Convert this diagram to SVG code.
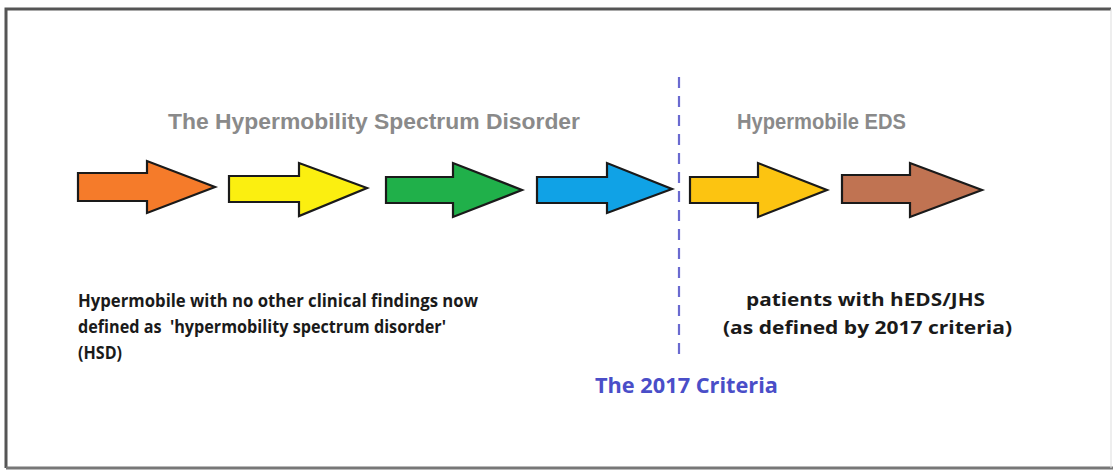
<svg xmlns="http://www.w3.org/2000/svg" width="1113" height="471" viewBox="0 0 1113 471">
<style>
.arrow{stroke:#1a1a1a;stroke-width:2.2;stroke-linejoin:miter}
.title{font-family:"Liberation Sans",Arial,sans-serif;font-weight:bold;font-size:22px;fill:#8a8a8a}
.body{font-family:"Open Sans","Liberation Sans",sans-serif;font-weight:bold;font-size:17px;fill:#1a1a1a}
.crit{font-family:"Open Sans","Liberation Sans",sans-serif;font-weight:bold;font-size:21px;fill:#4a4ec8}
</style>
<rect x="0" y="0" width="1113" height="471" fill="#ffffff"/>
<path d="M6,468 L6,9 L1111,9" fill="none" stroke="#555555" stroke-width="3"/>
<line x1="6" y1="468" x2="1113" y2="468" stroke="#777777" stroke-width="3"/>
<line x1="1111" y1="9" x2="1111" y2="468" stroke="#dddddd" stroke-width="1"/>
<g id="connectors">
<line x1="679" y1="77" x2="679" y2="358" stroke="#6a6ad0" stroke-width="2.2" stroke-dasharray="11 8"/>
</g>
<g id="arrow-orange"><polygon class="arrow" fill="#f57b2a" points="78,173 147,173 147,161 215,187 147,213 147,201 78,201"/></g>
<g id="arrow-yellow"><polygon class="arrow" fill="#fbef10" points="229,176 299,176 299,163 367,188 299,216 299,202 229,202"/></g>
<g id="arrow-green"><polygon class="arrow" fill="#20b04a" points="386,177 453,177 453,163 522,190 453,217 453,203 386,203"/></g>
<g id="arrow-blue"><polygon class="arrow" fill="#10a2e6" points="537,177 607,177 607,163 672,189 607,213 607,203 537,203"/></g>
<g id="arrow-gold"><polygon class="arrow" fill="#fcc411" points="690,177 758,177 758,163 827,190 758,217 758,203 690,203"/></g>
<g id="arrow-brown"><polygon class="arrow" fill="#c07352" points="842,175 910,175 910,163 982,190 910,217 910,203 842,203"/></g>
<g id="title-hsd"><text class="title" x="168" y="129" textLength="412" lengthAdjust="spacingAndGlyphs">The Hypermobility Spectrum Disorder</text></g>
<g id="title-heds"><text class="title" x="737" y="129" textLength="169" lengthAdjust="spacingAndGlyphs">Hypermobile EDS</text></g>
<g id="text-hsd">
<text class="body" x="78" y="307" textLength="400" lengthAdjust="spacingAndGlyphs">Hypermobile with no other clinical findings now</text>
<text class="body" x="78" y="333" textLength="368" lengthAdjust="spacingAndGlyphs" xml:space="preserve">defined as  'hypermobility spectrum disorder'</text>
<text class="body" x="78" y="359" textLength="44" lengthAdjust="spacingAndGlyphs">(HSD)</text>
</g>
<g id="text-heds">
<text class="body" x="746" y="306" textLength="239" lengthAdjust="spacingAndGlyphs" font-size="18">patients with hEDS/JHS</text>
<text class="body" x="723" y="334" textLength="289" lengthAdjust="spacingAndGlyphs" font-size="18">(as defined by 2017 criteria)</text>
</g>
<g id="label-criteria"><text class="crit" x="595" y="393" textLength="183" lengthAdjust="spacingAndGlyphs">The 2017 Criteria</text></g>
</svg>
